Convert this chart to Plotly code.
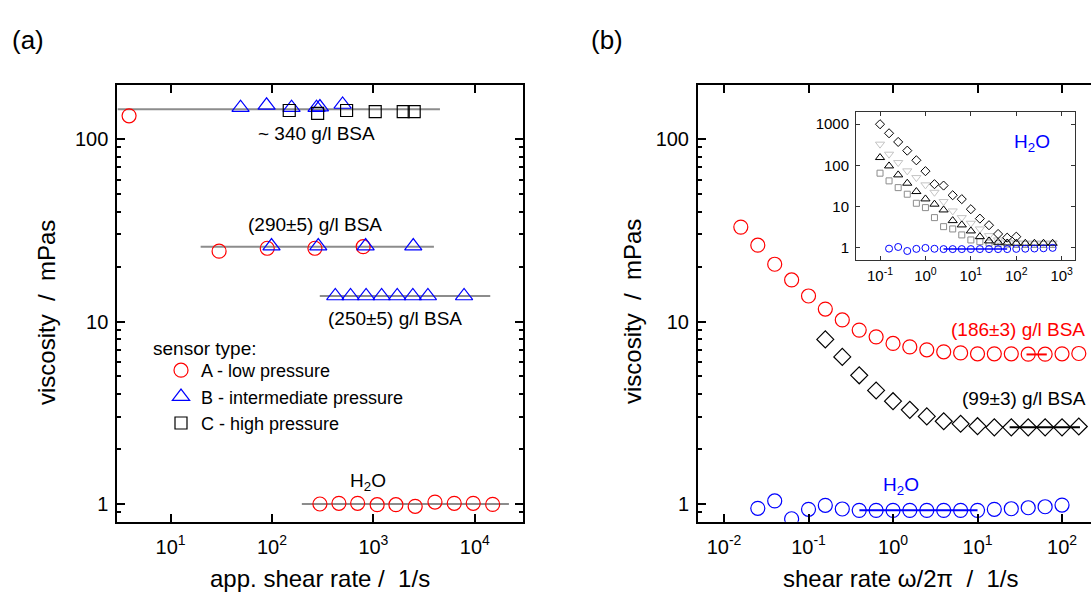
import plotly.graph_objects as go

W, H = 1091, 595
FONT = "Liberation Sans, Arial, sans-serif"
RED, BLUE, BLACK = "#ff0000", "#0000ff", "#000000"
GRAY, LIGHT = "#8c8c8c", "#c4c4c4"

# ---------------- panel (a): viscosity vs apparent shear rate ----------------
# ~340 g/l BSA
bsa340_rate_A = [3.9]
bsa340_visc_A = [134]
bsa340_rate_B = [49, 88.5, 156, 275, 297, 497]
bsa340_visc_B = [148.6, 153, 148.6, 148.6, 149.7, 154.6]
bsa340_rate_C = [148, 282, 544, 1042, 1968, 2525]
bsa340_visc_C = [143.3, 138.3, 143.3, 141.2, 141.2, 141.2]
# (290±5) g/l BSA
bsa290_rate_A = [30.1, 89.8, 265, 793]
bsa290_visc_A = [24.3, 25.2, 25.2, 25.7]
bsa290_rate_B = [99, 286, 838, 2472]
bsa290_visc_B = [25.9, 25.9, 25.9, 25.9]
# (250±5) g/l BSA
bsa250_rate_B = [421, 595, 847, 1205, 1718, 2449, 3446, 7834]
bsa250_visc_B = [13.8, 13.8, 13.8, 13.8, 13.8, 13.8, 13.8, 13.8]
# water
h2o_rate_A = [297, 457, 699, 1089, 1667, 2582, 4045, 6267, 9640, 14990]
h2o_visc_A = [1.0, 1.009, 1.009, 0.991, 0.991, 0.971, 1.025, 1.009, 1.009, 0.995]

# mean viscosity levels drawn as horizontal lines
level_a_start = [3.0, 19.8, 296, 197]
level_a_end = [4530, 3950, 14190, 21680]
level_a_value = [145.5, 25.7, 13.8, 1.0]

# ---------------- panel (b): oscillatory rheometry ----------------
freq_186 = [0.0158, 0.0251, 0.0398, 0.0631, 0.1, 0.158, 0.251, 0.398, 0.631, 1.0,
            1.58, 2.51, 3.98, 6.31, 10, 15.8, 25.1, 39.8, 63.1, 100, 158]
visc_186 = [32.9, 26.2, 20.6, 16.9, 13.8, 11.7, 10.2, 8.97, 8.24, 7.58,
            7.26, 7.0, 6.82, 6.73, 6.65, 6.65, 6.65, 6.62, 6.62, 6.65, 6.68]
freq_99 = [0.158, 0.251, 0.398, 0.631, 1.0, 1.58, 2.51, 3.98, 6.31, 10,
           15.8, 25.1, 39.8, 63.1, 100, 158]
visc_99 = [7.98, 6.4, 5.07, 4.19, 3.66, 3.28, 3.02, 2.84, 2.75, 2.67,
           2.63, 2.63, 2.63, 2.63, 2.63, 2.66]
freq_h2o = [0.0251, 0.0398, 0.0631, 0.1, 0.158, 0.251, 0.398, 0.631, 1.0, 1.58,
            2.51, 3.98, 6.31, 10, 15.8, 25.1, 39.8, 63.1, 100]
visc_h2o = [0.947, 1.039, 0.83, 0.935, 0.984, 0.939, 0.923, 0.923, 0.923, 0.923,
            0.923, 0.923, 0.923, 0.923, 0.935, 0.942, 0.954, 0.966, 0.987]

level_b_start = [38, 24, 0.4]
level_b_end = [66, 163, 10]
level_b_value = [6.6, 2.63, 0.923]
level_b_color = [RED, BLACK, BLUE]

# ---------------- inset: viscosity vs angular frequency ----------------
omega = [0.1, 0.158, 0.251, 0.398, 0.631, 1.0, 1.58, 2.51, 3.98, 6.31,
         10, 15.8, 25.1, 39.8, 63.1, 100, 158, 251, 398, 631]
ins_diamond = [1000, 603, 371, 228, 133, 72.3, 34.9, 32.3, 18.8, 15.1,
               8.6, 5.08, 3.51, 2.15, 1.75, 1.85]
ins_tri_down = [328, 187, 117, 73.5, 50.5, 33.6, 22.2, 13.2, 7.8, 5.37,
                3.92, 2.85, 1.96, 1.54, 1.38, 1.32, 1.3, 1.3, 1.3, 1.3]
ins_tri_up = [155, 97, 58.7, 36.9, 23.1, 15.3, 11.4, 8.26, 4.54, 3.57,
              2.55, 1.85, 1.46, 1.35, 1.3, 1.28, 1.28, 1.28, 1.28, 1.28]
ins_square = [64.6, 42, 28.8, 19.9, 12.0, 9.4, 5.37, 3.24, 2.85, 2.04,
              1.54, 1.4, 1.3, 1.25, 1.22, 1.2, 1.2, 1.2, 1.2, 1.2]
omega_h2o = [0.158, 0.251, 0.398, 0.631, 1.0, 1.58, 2.51, 3.98, 6.31, 10,
             15.8, 25.1, 39.8, 63.1, 100, 158, 251, 398, 631]
ins_h2o = [0.947, 1.039, 0.83, 0.935, 0.984, 0.939, 0.923, 0.923, 0.923, 0.923,
           0.923, 0.923, 0.923, 0.923, 0.935, 0.942, 0.954, 0.966, 0.987]
ins_level = [2.5, 63, 0.93]

# tick labels
dec_a = [10, 100, 1000, 10000]
dec_a_text = ["10<sup>1</sup>", "10<sup>2</sup>", "10<sup>3</sup>", "10<sup>4</sup>"]
dec_b = [0.01, 0.1, 1, 10, 100]
dec_b_text = ["10<sup>-2</sup>", "10<sup>-1</sup>", "10<sup>0</sup>", "10<sup>1</sup>", "10<sup>2</sup>"]
dec_ins = [0.1, 1, 10, 100, 1000]
dec_ins_text = ["10<sup>-1</sup>", "10<sup>0</sup>", "10<sup>1</sup>", "10<sup>2</sup>", "10<sup>3</sup>"]
visc_ticks = [1, 10, 100]
visc_minor = [0.8, 0.9, 2, 3, 4, 5, 6, 7, 8, 9, 20, 30, 40, 50, 60, 70, 80, 90, 200]
ins_visc_ticks = [1, 10, 100, 1000]


def px(x):
    return x / W


def py(y):
    return 1 - y / H


fig = go.Figure()


def open_marker(symbol, size, color, width=1.2):
    return dict(symbol=symbol, size=size, color=color, line=dict(color=color, width=width))


# panel (a) level lines
for x0, x1, v in zip(level_a_start, level_a_end, level_a_value):
    fig.add_trace(go.Scatter(x=[x0, x1], y=[v, v], mode="lines", line=dict(color=GRAY, width=2),
                             showlegend=False, hoverinfo="skip", xaxis="x", yaxis="y"))

# panel (a) sensors
fig.add_trace(go.Scatter(
    x=bsa340_rate_A + bsa290_rate_A + h2o_rate_A,
    y=bsa340_visc_A + bsa290_visc_A + h2o_visc_A,
    mode="markers", name="A - low pressure",
    marker=open_marker("circle-open", 14, RED), xaxis="x", yaxis="y"))
fig.add_trace(go.Scatter(
    x=bsa340_rate_B + bsa290_rate_B + bsa250_rate_B,
    y=bsa340_visc_B + bsa290_visc_B + bsa250_visc_B,
    mode="markers", name="B - intermediate pressure",
    marker=open_marker("triangle-up-open", 15, BLUE), xaxis="x", yaxis="y"))
fig.add_trace(go.Scatter(
    x=bsa340_rate_C, y=bsa340_visc_C,
    mode="markers", name="C - high pressure",
    marker=open_marker("square-open", 12, BLACK), xaxis="x", yaxis="y"))

# panel (b)
fig.add_trace(go.Scatter(x=freq_186, y=visc_186, mode="markers", showlegend=False,
                         marker=open_marker("circle-open", 14, RED), xaxis="x2", yaxis="y2"))
fig.add_trace(go.Scatter(x=freq_99, y=visc_99, mode="markers", showlegend=False,
                         marker=open_marker("diamond-open", 13, BLACK), xaxis="x2", yaxis="y2"))
fig.add_trace(go.Scatter(x=freq_h2o, y=visc_h2o, mode="markers", showlegend=False,
                         marker=open_marker("circle-open", 14, BLUE), xaxis="x2", yaxis="y2"))
for x0, x1, v, c in zip(level_b_start, level_b_end, level_b_value, level_b_color):
    fig.add_trace(go.Scatter(x=[x0, x1], y=[v, v], mode="lines", line=dict(color=c, width=2),
                             showlegend=False, hoverinfo="skip", xaxis="x2", yaxis="y2"))

# inset
fig.add_trace(go.Scatter(x=omega, y=ins_square, mode="markers", showlegend=False,
                         marker=open_marker("square-open", 6, GRAY, 1), xaxis="x3", yaxis="y3"))
fig.add_trace(go.Scatter(x=omega, y=ins_tri_down, mode="markers", showlegend=False,
                         marker=open_marker("triangle-down-open", 8, LIGHT, 1), xaxis="x3", yaxis="y3"))
fig.add_trace(go.Scatter(x=omega, y=ins_tri_up, mode="markers", showlegend=False,
                         marker=open_marker("triangle-up-open", 8, BLACK, 1), xaxis="x3", yaxis="y3"))
fig.add_trace(go.Scatter(x=omega[:len(ins_diamond)], y=ins_diamond, mode="markers", showlegend=False,
                         marker=open_marker("diamond-open", 7, BLACK, 1), xaxis="x3", yaxis="y3"))
fig.add_trace(go.Scatter(x=omega_h2o, y=ins_h2o, mode="markers", showlegend=False,
                         marker=open_marker("circle-open", 7, BLUE, 1), xaxis="x3", yaxis="y3"))
fig.add_trace(go.Scatter(x=ins_level[:2], y=[ins_level[2], ins_level[2]], mode="lines",
                         line=dict(color=BLUE, width=1.5), showlegend=False, hoverinfo="skip",
                         xaxis="x3", yaxis="y3"))

TICK = 20
axis_common = dict(type="log", showline=True, linecolor="black", linewidth=2, ticks="inside",
                   ticklen=8, tickwidth=1.5, tickcolor="black", showgrid=False, zeroline=False,
                   tickfont=dict(size=TICK, family=FONT, color="black"), tickmode="array")
minor_y = dict(ticks="inside", ticklen=4, tickwidth=1.5, tickcolor="black", tickmode="array",
               tickvals=visc_minor, showgrid=False)
inset_axis = dict(linewidth=1, linecolor="#333333", ticklen=4, tickwidth=1, tickcolor="#333333",
                  tickfont=dict(size=15, family=FONT, color="black"), mirror="ticks")

ydom = [py(521.7), py(85)]
fig.update_layout(
    width=W, height=H, margin=dict(l=0, r=0, t=0, b=0),
    paper_bgcolor="white", plot_bgcolor="white",
    font=dict(family=FONT, color="black"),
    xaxis=dict(axis_common, domain=[px(117.3), px(522.7)], range=[0.475, 4.472], mirror="ticks",
               tickvals=dec_a, ticktext=dec_a_text, anchor="y", ticklabelstandoff=6),
    yaxis=dict(axis_common, domain=ydom, range=[-0.097, 2.296], mirror="ticks",
               tickvals=visc_ticks, ticktext=[str(v) for v in visc_ticks], minor=minor_y,
               anchor="x", ticklabelstandoff=3),
    xaxis2=dict(axis_common, domain=[px(698), 1.0], range=[-2.308, 2.343], mirror="ticks",
                tickvals=dec_b, ticktext=dec_b_text, anchor="y2", ticklabelstandoff=6),
    yaxis2=dict(axis_common, domain=ydom, range=[-0.097, 2.296], mirror=False,
                tickvals=visc_ticks, ticktext=[str(v) for v in visc_ticks], minor=minor_y,
                anchor="x2", ticklabelstandoff=3),
    xaxis3=dict(axis_common, **inset_axis, domain=[px(856), px(1075)], range=[-1.529, 3.293],
                tickvals=dec_ins, ticktext=dec_ins_text, anchor="y3", ticklabelstandoff=2),
    yaxis3=dict(axis_common, **inset_axis, domain=[py(260), py(112.3)], range=[-0.3, 3.29],
                tickvals=ins_visc_ticks, ticktext=[str(v) for v in ins_visc_ticks],
                anchor="x3", ticklabelstandoff=3),
    legend=dict(x=px(161), y=py(352), xanchor="left", yanchor="top",
                font=dict(size=18, family=FONT, color="black"), bgcolor="rgba(0,0,0,0)",
                borderwidth=0, tracegroupgap=0, itemsizing="trace"),
)

NB = "\u00a0"
notes = [
    ("(a)", 28, 40, 26, BLACK, "center", 0),
    ("(b)", 607, 40, 26, BLACK, "center", 0),
    ("viscosity" + NB + NB + "/" + NB + NB + "mPas", 46, 312, 24, BLACK, "center", -90),
    ("viscosity" + NB + NB + "/" + NB + NB + "mPas", 632, 312, 24, BLACK, "center", -90),
    ("app. shear rate /" + NB + NB + "1/s", 320, 578, 24, BLACK, "center", 0),
    ("shear rate ω/2π" + NB + NB + "/" + NB + NB + "1/s", 900, 578, 24, BLACK, "center", 0),
    ("~ 340 g/l BSA", 316.7, 133, 19, BLACK, "center", 0),
    ("(290±5) g/l BSA", 315, 224, 19, BLACK, "center", 0),
    ("(250±5) g/l BSA", 394.7, 318, 19, BLACK, "center", 0),
    ("H<sub>2</sub>O", 368, 482, 19, BLACK, "center", 0),
    ("sensor type:", 151, 348, 19, BLACK, "left", 0),
    ("(186±3) g/l BSA", 1087, 329.3, 19, RED, "right", 0),
    ("(99±3) g/l BSA", 1087.7, 398.3, 19, BLACK, "right", 0),
    ("H<sub>2</sub>O", 901, 486, 19, BLUE, "center", 0),
    ("H<sub>2</sub>O", 1031.8, 143, 19, BLUE, "center", 0),
]
for text, x, y, size, color, anchor, angle in notes:
    fig.add_annotation(text=text, x=px(x), y=py(y), xref="paper", yref="paper",
                       xanchor=anchor, yanchor="middle", showarrow=False, textangle=angle,
                       font=dict(size=size, family=FONT, color=color))

fig.write_html("out.html")
